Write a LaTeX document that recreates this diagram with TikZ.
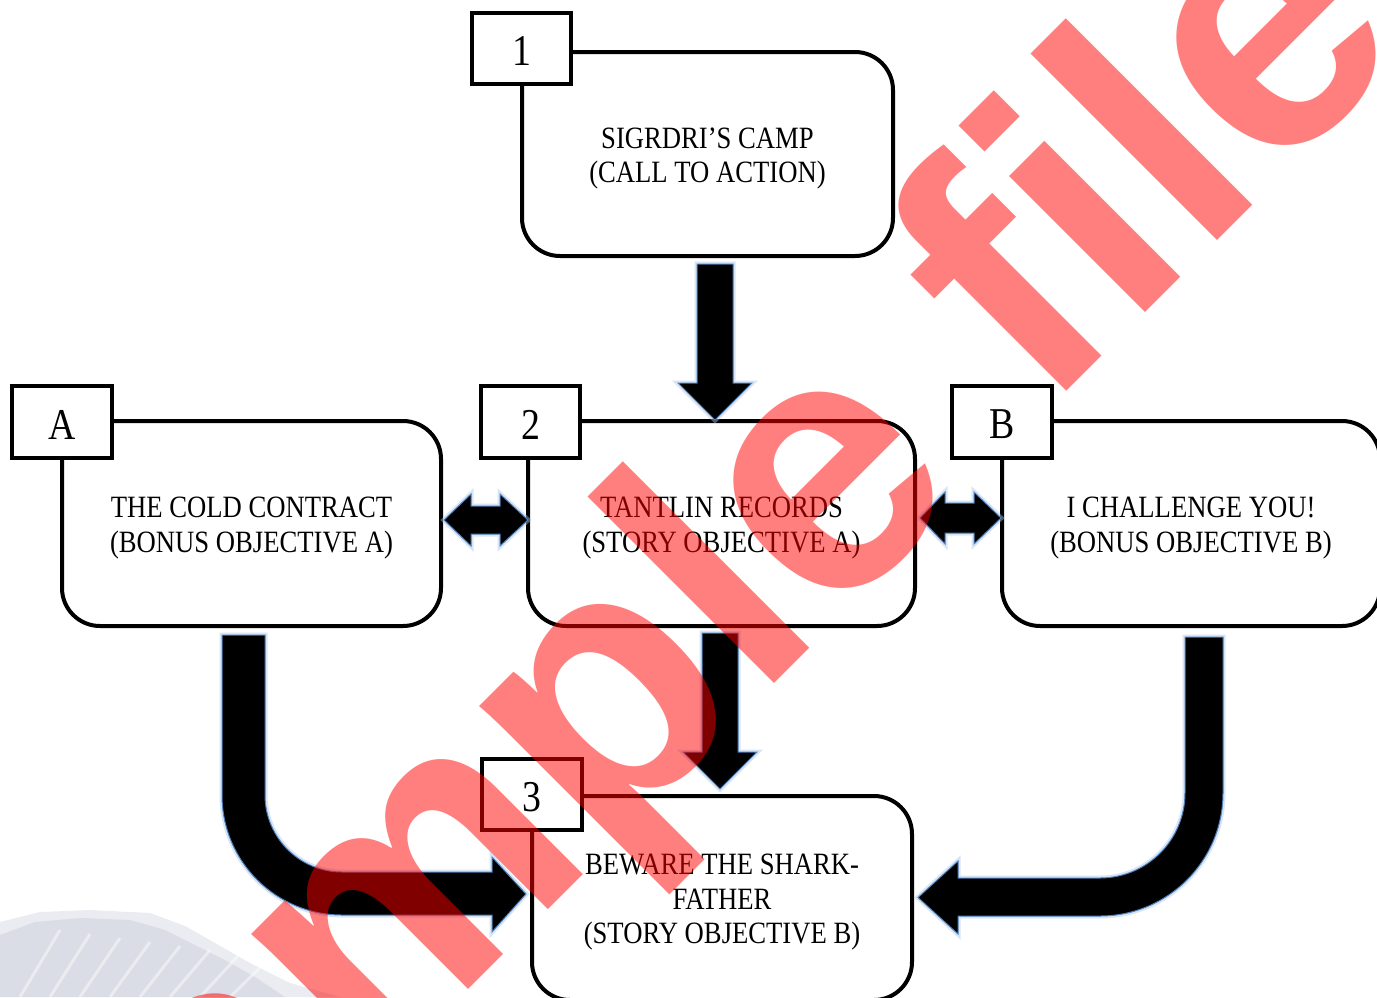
\documentclass[tikz,border=0pt]{standalone}
\usepackage{fontspec}
\setmainfont{Liberation Serif}[FakeStretch=0.86]
\newfontfamily\wmfont{Liberation Sans}
\usetikzlibrary{calc}
\definecolor{arrowblue}{RGB}{79,129,189}
\definecolor{glowblue}{RGB}{170,198,235}
\definecolor{mountain}{RGB}{208,213,223}
\newcommand\lowtext[1]{\raisebox{-2.2pt}[\height][\depth]{\begin{tabular}{@{}c@{}}#1\end{tabular}}}
\newcommand\lowtag[1]{\raisebox{-1.3pt}[\height][\depth]{#1}}
\begin{document}
\begin{tikzpicture}[x=0.5pt,y=-0.5pt,
  box/.style={draw, line width=2pt, rounded corners=19pt, fill=white,
    font=\fontsize{15.5}{17.3}\selectfont, inner sep=0pt},
  tag/.style={draw, line width=2pt, fill=white, minimum width=50pt, minimum height=36pt,
    inner sep=0pt, font=\fontsize{22}{22}\selectfont},
  blockarrow/.style={fill=black, draw=arrowblue, line width=0.5pt,
    preaction={draw=glowblue, line width=2.5pt, opacity=0.45}},
  watermark/.style={text=red, text opacity=0.5, inner sep=0pt, anchor=base west, rotate=45,
    font=\wmfont\bfseries\fontsize{182}{182}\selectfont}
]
\useasboundingbox (0,0) rectangle (1377,997);
\clip (0,0) rectangle (1377,997);
\fill[white] (0,0) rectangle (1377,997);

% faint background hill
\fill[mountain!45] (0,997) -- (0,922) -- (40,912) -- (90,910) -- (150,913) -- (185,926)
  -- (215,943) -- (250,963) -- (290,983) -- (340,997) -- cycle;
\fill[mountain!80] (0,997) -- (0,935) -- (35,922) -- (80,918) -- (130,920) -- (165,930)
  -- (195,945) -- (225,960) -- (255,977) -- (285,997) -- cycle;
\foreach \i in {0,...,7}{
  \draw[white, opacity=0.45, line width=1.5pt] (20+30*\i,997) -- (60+30*\i,930+4*\i);
}

% boxes
\node[box, minimum width=185.5pt, minimum height=102pt] (box1) at (707.5,154)
  {\lowtext{SIGRDRI’S CAMP\\(CALL TO ACTION)}};
\node[box, minimum width=189.5pt, minimum height=102.5pt] (boxA) at (251.5,523.5)
  {\lowtext{THE COLD CONTRACT\\(BONUS OBJECTIVE A)}};
\node[box, minimum width=193.5pt, minimum height=102.5pt] (box2) at (721.5,523.5)
  {\lowtext{TANTLIN RECORDS\\(STORY OBJECTIVE A)}};
\node[box, minimum width=189pt, minimum height=102.5pt] (boxB) at (1191,523.5)
  {\lowtext{I CHALLENGE YOU!\\(BONUS OBJECTIVE B)}};
\node[box, minimum width=190pt, minimum height=102pt] (box3) at (722,898)
  {\lowtext{BEWARE THE SHARK-\\FATHER\\(STORY OBJECTIVE B)}};

% tags
\node[tag, minimum width=49.5pt, minimum height=35.5pt] (tag1) at (521.5,48.5) {\lowtag{1}};
\node[tag] (tagA) at (62,422) {\lowtag{A}};
\node[tag, minimum width=49.5pt] (tag2) at (530.5,422) {\lowtag{2}};
\node[tag] (tagB) at (1002,422) {\lowtag{B}};
\node[tag, minimum height=35.5pt] (tag3) at (532,794.5) {\lowtag{3}};

% arrow 1 -> 2
\begin{scope}[shift={(box1.south)}]
\path[blockarrow] (-10.5,6) -- (25.5,6) -- (25.5,125) -- (44.5,125) -- (7.5,162)
  -- (-29.5,125) -- (-10.5,125) -- cycle;
\end{scope}
% arrow 2 -> 3
\begin{scope}[shift={(box2.south)}]
\path[blockarrow] (-19.5,5) -- (16.5,5) -- (16.5,124) -- (35.5,124) -- (-1.5,161)
  -- (-38.5,124) -- (-19.5,124) -- cycle;
\end{scope}
% double arrow A <-> 2
\begin{scope}[shift={(boxA.east)}]
\path[blockarrow] (1,-3.5) -- (28,-29.5) -- (28,-17.5) -- (57,-17.5) -- (57,-29.5)
  -- (85,-3.5) -- (57,22.5) -- (57,10.5) -- (28,10.5) -- (28,22.5) -- cycle;
\end{scope}
% double arrow 2 <-> B
\begin{scope}[shift={(box2.east)}]
\path[blockarrow] (3,-5.5) -- (28,-31.5) -- (28,-20.5) -- (57,-20.5) -- (57,-31.5)
  -- (84,-5.5) -- (57,20.5) -- (57,9.5) -- (28,9.5) -- (28,20.5) -- cycle;
\end{scope}
% curved arrow A -> 3
\begin{scope}[shift={(boxA.south)}]
\path[blockarrow] (-29.5,7) -- (13.5,7) -- (13.5,167)
  .. controls (13.5,209.5) and (48,244) .. (90.5,244) -- (240.5,244) -- (240.5,229)
  -- (274.5,266) -- (240.5,304) -- (240.5,287) -- (90.5,287)
  .. controls (24.2,287) and (-29.5,233.3) .. (-29.5,167) -- cycle;
\end{scope}
% curved arrow B -> 3
\begin{scope}[shift={(boxB.south)}]
\path[blockarrow] (32,9) -- (-6,9) -- (-6,165)
  .. controls (-6,211.9) and (-44.1,250) .. (-91,250) -- (-233,250) -- (-233,233)
  -- (-273,269.5) -- (-233,306) -- (-233,288) -- (-91,288)
  .. controls (-23.1,288) and (32,232.9) .. (32,165) -- cycle;
\end{scope}

% watermark
\node[watermark] (wm) at (55,1403) {Sample file};
\end{tikzpicture}
\end{document}
